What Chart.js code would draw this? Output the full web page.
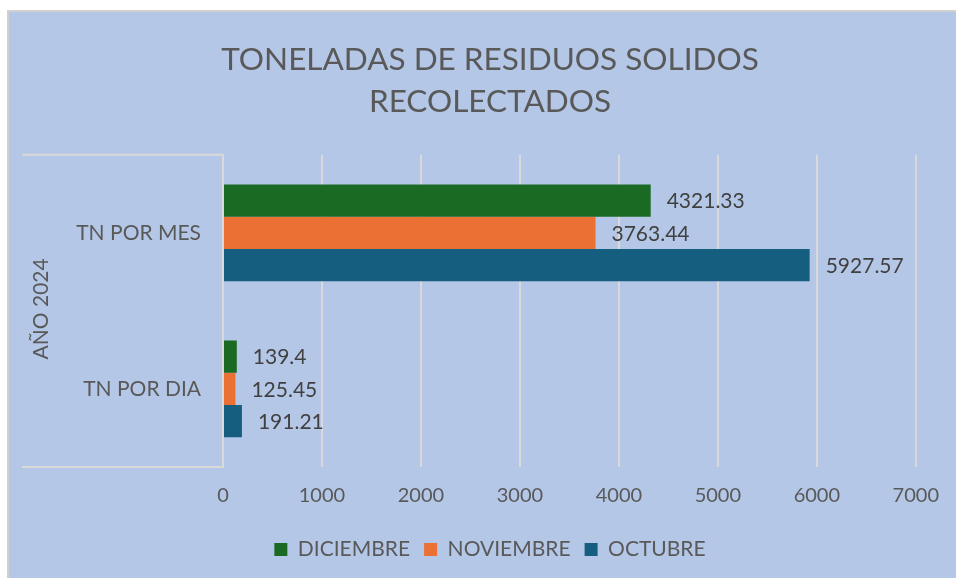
<!DOCTYPE html>
<html>
<head>
<meta charset="utf-8">
<script src="https://cdn.jsdelivr.net/npm/chart.js@4"></script>
<style>
  html, body { margin: 0; padding: 0; background: #ffffff; }
  #wrap { width: 956px; height: 578px; position: relative; }
</style>
</head>
<body>
<div id="wrap"><canvas id="residuosChart"></canvas></div>
<script>
const titleLines = ['TONELADAS DE RESIDUOS SOLIDOS', 'RECOLECTADOS'];
const categories = ['TN POR MES', 'TN POR DIA'];
const groupLabel = 'AÑO 2024';
const seriesNames = ['DICIEMBRE', 'NOVIEMBRE', 'OCTUBRE'];
const diciembre = [4321.33, 139.4];
const noviembre = [3763.44, 125.45];
const octubre = [5927.57, 191.21];
const seriesColors = ['#1b6a23', '#ea7133', '#165e80'];

const FONT = "Lato, 'Open Sans', sans-serif";

// white page, grey frame, blue chart area
const backgroundPlugin = {
  id: 'background',
  beforeDraw(chart) {
    const { ctx, width, height } = chart;
    ctx.save();
    ctx.fillStyle = '#ffffff';
    ctx.fillRect(0, 0, width, height);
    ctx.fillStyle = '#d0d0d0';
    ctx.fillRect(7, 10, width - 7, height - 10);
    ctx.fillStyle = '#b4c7e7';
    ctx.fillRect(9, 12, width - 9, height - 12);
    ctx.restore();
  }
};

// grouping box on the left of the category axis
const groupPlugin = {
  id: 'groupBox',
  afterDraw(chart) {
    const { ctx, chartArea } = chart;
    ctx.save();
    ctx.strokeStyle = '#d9d9d9';
    ctx.lineWidth = 2;
    ctx.beginPath();
    ctx.moveTo(22, chartArea.top);
    ctx.lineTo(chartArea.left, chartArea.top);
    ctx.moveTo(22, chartArea.bottom);
    ctx.lineTo(chartArea.left, chartArea.bottom);
    ctx.stroke();
    ctx.translate(41, (chartArea.top + chartArea.bottom) / 2 - 2);
    ctx.rotate(-Math.PI / 2);
    ctx.fillStyle = '#595959';
    ctx.font = '21px ' + FONT;
    ctx.textAlign = 'center';
    ctx.textBaseline = 'middle';
    ctx.fillText(groupLabel, 0, 0);
    ctx.restore();
  }
};

// value labels right of each bar
const valueLabelPlugin = {
  id: 'valueLabels',
  afterDatasetsDraw(chart) {
    const { ctx } = chart;
    ctx.save();
    ctx.fillStyle = '#404040';
    ctx.font = '21px ' + FONT;
    ctx.textAlign = 'left';
    ctx.textBaseline = 'middle';
    chart.data.datasets.forEach((ds, i) => {
      const meta = chart.getDatasetMeta(i);
      meta.data.forEach((bar, j) => {
        ctx.fillText(String(ds.data[j]), bar.x + 16, bar.y + 1);
      });
    });
    ctx.restore();
  }
};

const seriesData = [diciembre, noviembre, octubre];

new Chart(document.getElementById('residuosChart'), {
  type: 'bar',
  data: {
    labels: categories,
    datasets: seriesNames.map((name, i) => ({
      label: name,
      data: seriesData[i],
      backgroundColor: seriesColors[i],
      borderWidth: 0,
      categoryPercentage: 0.62,
      barPercentage: 1.0
    }))
  },
  options: {
    indexAxis: 'y',
    responsive: true,
    maintainAspectRatio: false,
    animation: false,
    layout: { padding: { left: 64, right: 40, top: 12, bottom: 8 } },
    plugins: {
      title: {
        display: true,
        text: titleLines,
        color: '#595959',
        font: { family: FONT, size: 31.5, weight: 'normal', lineHeight: 1.33 },
        padding: { top: 27, bottom: 32 }
      },
      legend: {
        display: true,
        position: 'bottom',
        labels: {
          color: '#595959',
          font: { family: FONT, size: 21 },
          boxWidth: 13,
          boxHeight: 13,
          padding: 14
        }
      },
      tooltip: { enabled: false }
    },
    scales: {
      x: {
        min: 0,
        max: 7000,
        afterFit(axis) { axis.height = 58; },
        ticks: {
          stepSize: 1000,
          color: '#595959',
          font: { family: FONT, size: 20 },
          padding: 17,
          callback: (v) => String(v)
        },
        grid: { color: '#d9d9d9', lineWidth: 2, drawTicks: false },
        border: { display: false }
      },
      y: {
        afterFit(axis) { axis.width = 159; },
        ticks: {
          color: '#595959',
          font: { family: FONT, size: 21 },
          padding: 22
        },
        grid: { display: false, drawTicks: false },
        border: { display: true, color: '#d9d9d9', width: 2 }
      }
    }
  },
  plugins: [backgroundPlugin, groupPlugin, valueLabelPlugin]
});
</script>
</body>
</html>
